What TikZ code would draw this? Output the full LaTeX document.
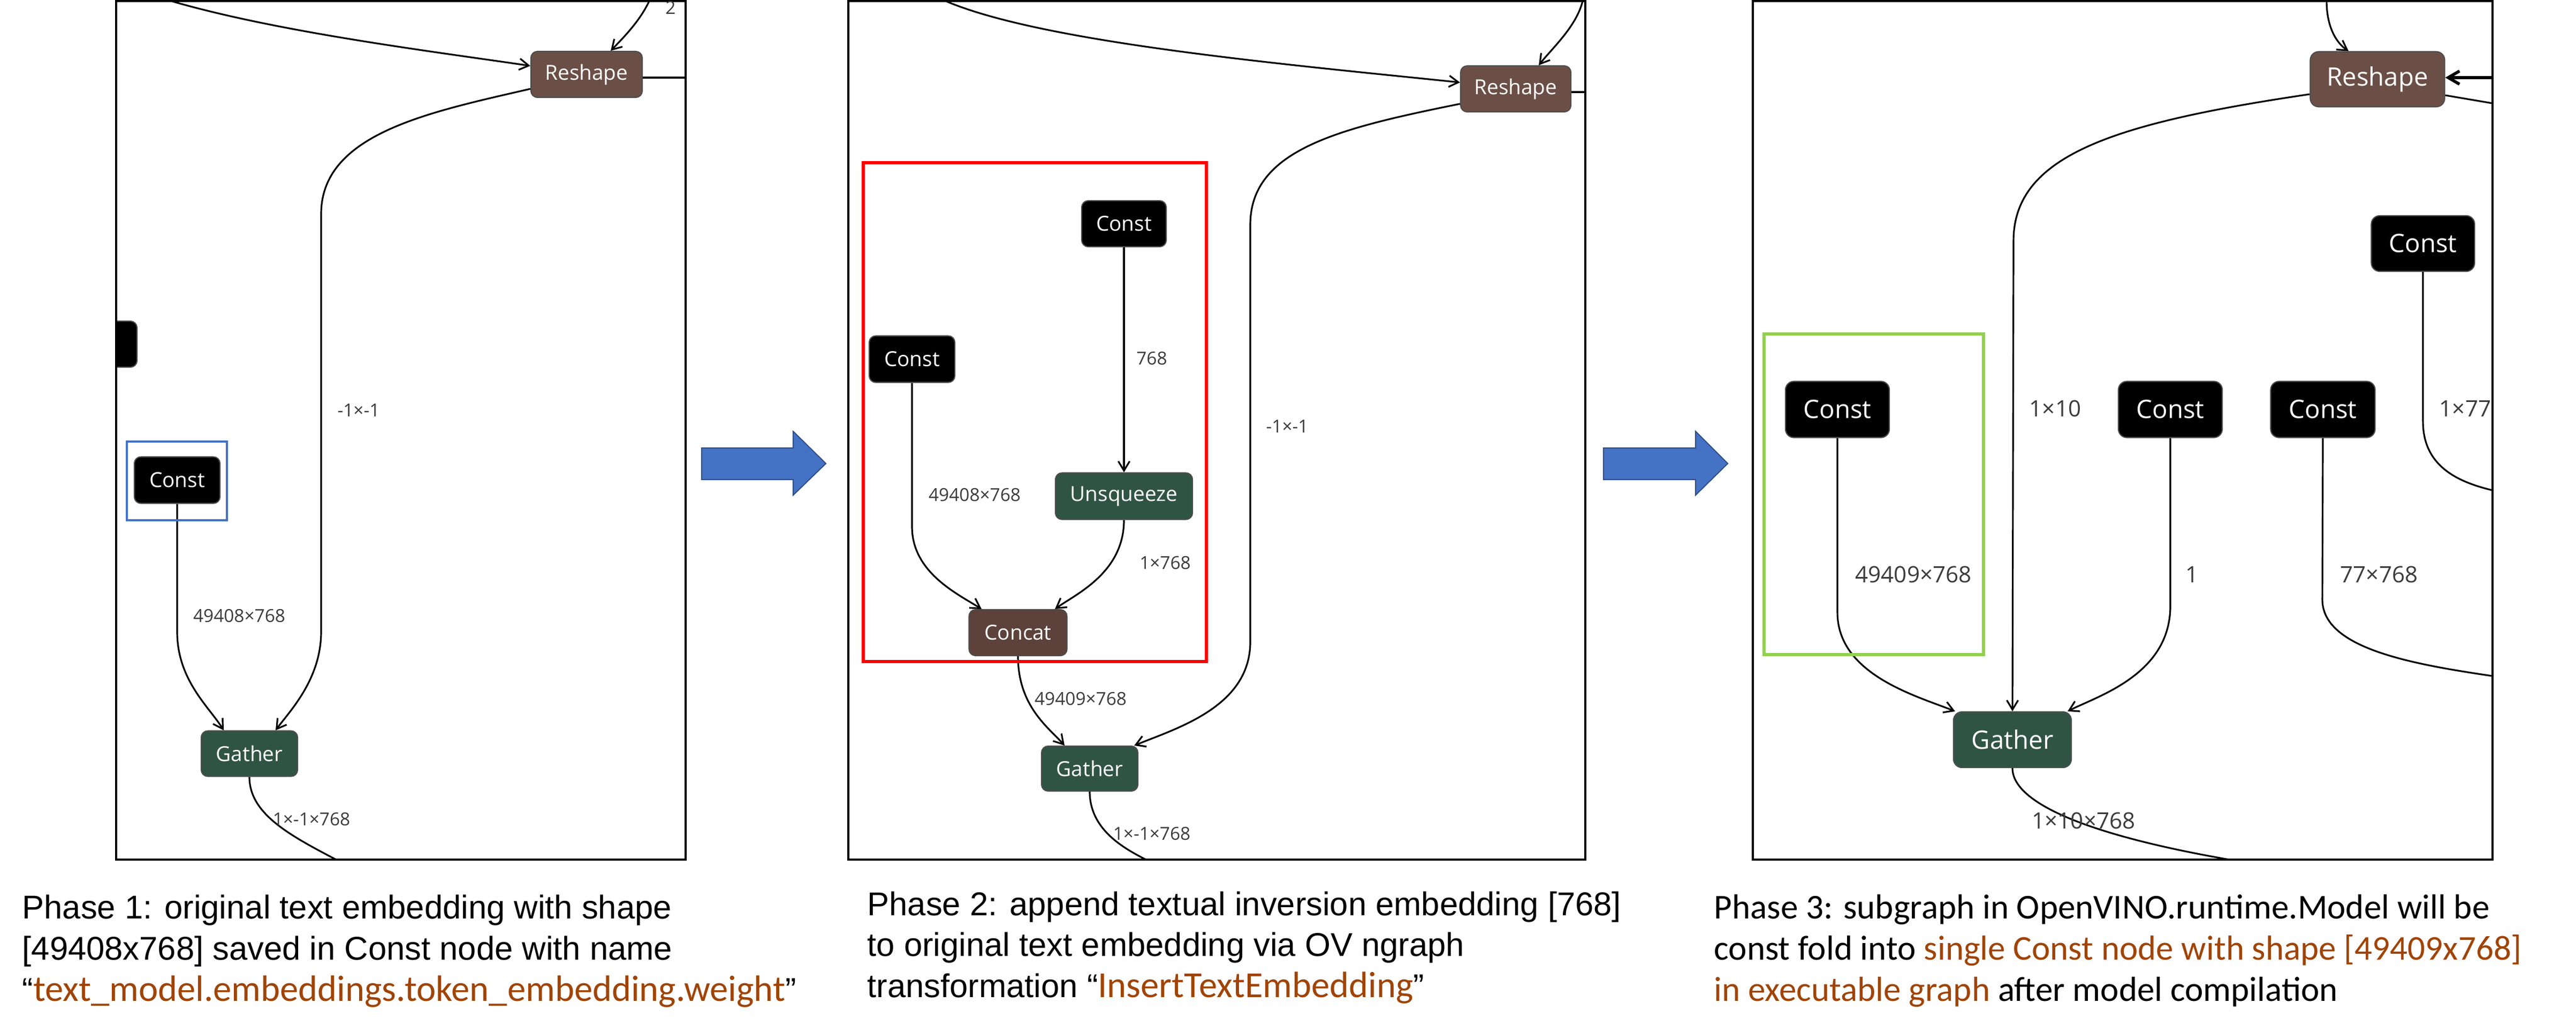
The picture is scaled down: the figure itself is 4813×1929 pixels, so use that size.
\documentclass[tikz,border=0pt]{standalone}
\usepackage{fontspec}
\setmainfont{Liberation Sans}
\newfontfamily\arialf{Liberation Sans}
\newfontfamily\calf{Carlito}
\newfontfamily\segf{Open Sans}
\usetikzlibrary{arrows.meta,calc}
\definecolor{brn}{RGB}{107,79,70}
\definecolor{brn2}{RGB}{92,66,58}
\definecolor{grn}{RGB}{48,84,68}
\definecolor{org}{RGB}{160,68,6}
\definecolor{lbl}{RGB}{60,60,60}
\definecolor{bluebox}{RGB}{68,114,196}
\definecolor{greenbox}{RGB}{146,208,80}
\tikzset{
 op/.style={draw=black!70,line width=0.6pt,rounded corners=3.5pt,inner sep=0pt,text=white,font=\segf\fontsize{11}{12}\selectfont},
 opL/.style={op,font=\segf\fontsize{13.5}{15}\selectfont,rounded corners=4.5pt},
 cst/.style={fill=black}, rsh/.style={fill=brn}, gat/.style={fill=grn}, cat/.style={fill=brn2},
 e/.style={line width=0.9pt,-{Straight Barb[length=5pt,width=6pt]}},
 eb/.style={line width=1.6pt,-{Straight Barb[length=6pt,width=7pt]}},
 en/.style={line width=0.9pt},
 el/.style={text=lbl,font=\segf\fontsize{9.5}{11}\selectfont,inner sep=0pt},
 elL/.style={text=lbl,font=\segf\fontsize{12}{13}\selectfont,inner sep=0pt},
 frame/.style={draw=black,line width=0.9pt},
 captxt/.style={anchor=base west,inner sep=0pt,font=\arialf\fontsize{17.5}{20}\selectfont},
 capC/.style={anchor=base west,inner sep=0pt,font=\calf\fontsize{18.5}{20}\selectfont},
 barrow/.style={fill=bluebox,draw=bluebox!70!black,line width=0.6pt},
}
\begin{document}
\begin{tikzpicture}[x=0.01cm,y=-0.01cm]
\useasboundingbox (0,0) rectangle (4813,1929);
\fill[white] (0,0) rectangle (4813,1929);
% ================= Phase 1
\begin{scope}
\clip (217,2) rectangle (1281,1606);
\node[op,rsh,minimum width=2.08cm,minimum height=0.86cm] (r1) at (1096,139) {Reshape};
\node[op,cst,minimum width=1.6cm,minimum height=0.87cm] (k1) at (331,897) {Const};
\node[op,gat,minimum width=1.8cm,minimum height=0.85cm] (g1) at (466,1408) {Gather};
\node[op,cst,minimum width=1.2cm,minimum height=0.86cm] (x1) at (196,643) {};
\coordinate (t1a) at (320,2); \coordinate (t1b) at (1213,2);
\coordinate (t1c) at (1281,145); \coordinate (t1d) at (628,1606);
\draw[e] (t1a) .. controls (520,60) and (800,95) .. ($(r1.west)+(0,-16)$);
\draw[e] (t1b) .. controls (1195,40) and (1165,70) .. ($(r1.north)+(45,0)$);
\draw[en] (r1.east |- t1c) -- (t1c);
\draw[e] ($(r1.west)+(0,27)$) .. controls (800,210) and (600,250) .. (600,400) -- (600,1180) .. controls (600,1270) and (540,1330) .. ($(g1.north)+(49,0)$);
\draw[e] (k1.south) -- (331,1180) .. controls (331,1270) and (390,1320) .. ($(g1.north)+(-48,0)$);
\draw[en] (g1.south) .. controls (466,1520) and (540,1560) .. (t1d);
\end{scope}
\draw[frame] (217,2) rectangle (1281,1606);
\node[el] at (1253,14) {2};
\node[el] at (670,767) {-1×-1};
\node[el] at (447,1151) {49408×768};
\node[el] at (582,1531) {1×-1×768};
\draw[draw=bluebox,line width=1.2pt] (237,825) rectangle (424,972);
\draw[barrow] (1311,837) -- (1482,837) -- (1482,806) -- (1543,866) -- (1482,925) -- (1482,896) -- (1311,896) -- cycle;
\node[captxt] (p1a) at (41,1716) {Phase 1: original text embedding with shape};
\node[captxt] (p1b) at (41,1793) {[49408x768] saved in Const node with name};
\node[captxt] (p1c) at (41,1870) {“\textcolor{org}{\calf\fontsize{19.5}{20}\selectfont text\_model.embeddings.token\_embedding.weight}”};
% ================= Phase 2
\begin{scope}
\clip (1585,2) rectangle (2962,1606);
\node[op,rsh,minimum width=2.06cm,minimum height=0.86cm] (r2) at (2832,166) {Reshape};
\node[op,cst,minimum width=1.58cm,minimum height=0.86cm] (k2a) at (2100,418) {Const};
\node[op,cst,minimum width=1.6cm,minimum height=0.87cm] (k2b) at (1704,671) {Const};
\node[op,gat,minimum width=2.56cm,minimum height=0.87cm] (u2) at (2100,927) {Unsqueeze};
\node[op,cat,minimum width=1.83cm,minimum height=0.86cm] (c2) at (1902,1182) {Concat};
\node[op,gat,minimum width=1.8cm,minimum height=0.84cm] (g2) at (2036,1436) {Gather};
\coordinate (t2a) at (1767,2); \coordinate (t2b) at (2957,2);
\coordinate (t2c) at (2962,172); \coordinate (t2d) at (2141,1606);
\draw[e] (t2a) .. controls (1950,80) and (2400,120) .. ($(r2.west)+(0,-12)$);
\draw[e] (t2b) .. controls (2945,50) and (2900,90) .. ($(r2.north)+(43,0)$);
\draw[en] (r2.east |- t2c) -- (t2c);
\draw[e] ($(r2.west)+(0,28)$) .. controls (2500,240) and (2336,280) .. (2336,420) -- (2336,1199) .. controls (2336,1320) and (2200,1360) .. ($(g2.north east)+(-8,0)$);
\draw[e] (k2b.south) -- (1704,984) .. controls (1704,1070) and (1790,1110) .. ($(c2.north)+(-68,0)$);
\draw[e] (k2a.south) -- (u2.north);
\draw[e] (u2.south) .. controls (2100,1070) and (2010,1110) .. ($(c2.north)+(69,0)$);
\draw[e] (c2.south) .. controls (1902,1320) and (1960,1360) .. ($(g2.north)+(-47,0)$);
\draw[en] (g2.south) .. controls (2036,1550) and (2100,1585) .. (t2d);
\end{scope}
\draw[frame] (1585,2) rectangle (2962,1606);
\node[el] at (2152,670) {768};
\node[el] at (1821,925) {49408×768};
\node[el] at (2177,1052) {1×768};
\node[el] at (2405,797) {-1×-1};
\node[el] at (2019,1306) {49409×768};
\node[el] at (2152,1558) {1×-1×768};
\draw[draw=red,line width=1.5pt] (1613,304) rectangle (2254,1236);
\draw[barrow] (2996,837) -- (3168,837) -- (3168,806) -- (3228,866) -- (3168,925) -- (3168,896) -- (2996,896) -- cycle;
\node[captxt] (p2a) at (1620,1710) {Phase 2: append textual inversion embedding [768]};
\node[captxt] (p2b) at (1620,1786) {to original text embedding via OV ngraph};
\node[captxt] (p2c) at (1620,1863) {transformation “\textcolor{org}{\calf\fontsize{19.5}{20}\selectfont InsertTextEmbedding}”};
% ================= Phase 3
\begin{scope}
\clip (3275,2) rectangle (4657,1606);
\node[opL,rsh,minimum width=2.51cm,minimum height=1.03cm] (r3) at (4442,148) {Reshape};
\node[opL,cst,minimum width=1.93cm,minimum height=1.04cm] (k34) at (4527,455) {Const};
\node[opL,cst,minimum width=1.94cm,minimum height=1.05cm] (k31) at (3433,765) {Const};
\node[opL,cst,minimum width=1.94cm,minimum height=1.05cm] (k32) at (4055,765) {Const};
\node[opL,cst,minimum width=1.95cm,minimum height=1.05cm] (k33) at (4340,765) {Const};
\node[opL,gat,minimum width=2.2cm,minimum height=1.04cm] (g3) at (3760,1382) {Gather};
\coordinate (t3a) at (4347,2); \coordinate (t3b) at (4657,145);
\coordinate (t3c) at (4657,193); \coordinate (t3d) at (4657,1263);
\coordinate (t3e) at (4657,916); \coordinate (t3f) at (4165,1606);
\draw[e] (t3a) .. controls (4347,50) and (4365,80) .. ($(r3.north)+(-54,0)$);
\draw[eb] (t3b) -- (r3.east |- t3b);
\draw[en] ($(r3.east)+(0,30)$) -- (t3c);
\draw[e] ($(r3.west)+(0,28)$) .. controls (3950,230) and (3762,290) .. (3762,450) -- (g3.north);
\draw[e] (k31.south) -- (3433,1144) .. controls (3433,1260) and (3580,1300) .. ($(g3.north west)+(4,0)$);
\draw[e] (k32.south) -- (4055,1132) .. controls (4055,1260) and (3920,1300) .. ($(g3.north east)+(-8,0)$);
\draw[en] (k33.south) -- (4339,1120) .. controls (4339,1210) and (4500,1240) .. (t3d);
\draw[en] (k34.south) -- (4527,787) .. controls (4527,870) and (4590,900) .. (t3e);
\draw[en] (g3.south) .. controls (3760,1500) and (3900,1560) .. (t3f);
\node[elL,anchor=west] at (4557,763) {1×77};
\end{scope}
\draw[frame] (3275,2) rectangle (4657,1606);
\node[elL] at (3840,763) {1×10};
\node[elL] at (3575,1073) {49409×768};
\node[elL] at (4095,1073) {1};
\node[elL] at (4445,1073) {77×768};
\node[elL] at (3893,1533) {1×10×768};
\draw[draw=greenbox,line width=1.5pt] (3296,624) rectangle (3706,1223);
\node[capC] (p3a) at (3202,1716) {Phase 3: subgraph in OpenVINO.runtime.Model will be};
\node[capC] (p3b) at (3202,1793) {const fold into \textcolor{org}{single Const node with shape [49409x768]}};
\node[capC] (p3c) at (3202,1870) {\textcolor{org}{in executable graph} after model compilation};
\end{tikzpicture}
\end{document}
